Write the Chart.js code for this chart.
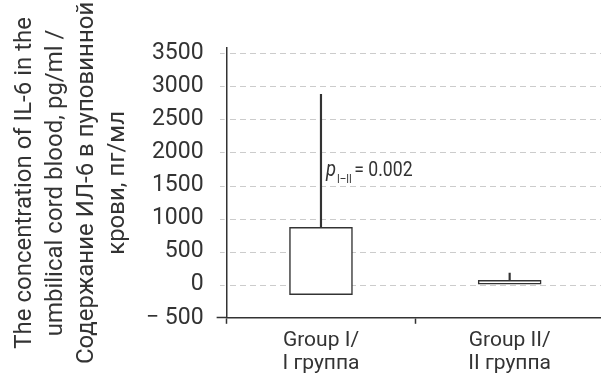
<!DOCTYPE html>
<html>
<head>
<meta charset="utf-8">
<script src="https://cdn.jsdelivr.net/npm/chart.js@4/dist/chart.umd.min.js"></script>
<style>
  html, body { margin: 0; padding: 0; background: #fff; overflow: hidden; }
  #wrap { position: relative; width: 604px; height: 381px; }
</style>
</head>
<body>
<div id="wrap"><canvas id="c"></canvas></div>
<script>
// ---- data ----
const categories = [['Group I/', 'I группа'], ['Group II/', 'II группа']];
const boxLow = [-150, 0];
const boxHigh = [870, 65];
const whiskerHigh = [2880, 175];
const yTicks = [-500, 0, 500, 1000, 1500, 2000, 2500, 3000, 3500];
const titleLines = ['The concentration of IL-6 in the', 'umbilical cord blood, pg/ml /', 'Содержание ИЛ-6 в пуповинной', 'крови, пг/мл'];
const pValueText = '= 0.002';
const pSubText = 'I–II';
const pAnchorValue = 1650;

const dark = '#333333';
const gridGray = '#cccccc';

// dashed horizontal grid lines at the y scale's ticks (segments drawn one by one)
const dashedGrid = {
  id: 'dashedGrid',
  beforeDatasetsDraw(chart) {
    const {ctx, chartArea, scales: {y}} = chart;
    const dash = 6, gap = 4;
    ctx.save();
    ctx.fillStyle = gridGray;
    y.ticks.forEach(t => {
      if (t.value === y.min) return;
      const py = Math.round(y.getPixelForValue(t.value));
      for (let xs = chartArea.left - 7; xs < chartArea.right; xs += dash + gap) {
        const x0 = Math.round(xs);
        let x1 = Math.min(x0 + dash, chartArea.right);
        if (x0 < chartArea.left && x1 > chartArea.left - 2) x1 = chartArea.left - 2;
        if (x1 > x0) ctx.fillRect(x0, py, x1 - x0, 1);
      }
    });
    ctx.restore();
  }
};

const annotation = {
  id: 'pAnnot',
  afterDatasetsDraw(chart) {
    const {ctx, scales: {x, y}} = chart;
    const px = x.getPixelForValue(0) + 5;
    const py = y.getPixelForValue(pAnchorValue);
    const sx = 0.84;
    ctx.save();
    ctx.fillStyle = dark;
    ctx.textBaseline = 'alphabetic';
    ctx.textAlign = 'left';
    ctx.translate(px, py);
    ctx.scale(sx, 1);
    ctx.font = 'italic 22px Roboto';
    ctx.fillText('p', 0, 0);
    const w = ctx.measureText('p').width;
    ctx.font = '12px Roboto';
    ctx.fillText(pSubText, w + 1, 7);
    const w2 = ctx.measureText(pSubText).width;
    ctx.font = '21px Roboto';
    ctx.fillText(pValueText, w + w2 + 4, 0);
    ctx.restore();
  }
};

new Chart(document.getElementById('c'), {
  type: 'bar',
  data: {
    labels: categories,
    datasets: [
      {
        data: boxLow.map((v, i) => [v, boxHigh[i]]),
        backgroundColor: '#ffffff',
        borderColor: dark,
        borderWidth: 1.5,
        borderSkipped: false,
        barThickness: 63,
        grouped: false,
        order: 1
      },
      {
        data: boxHigh.map((v, i) => [v, whiskerHigh[i]]),
        backgroundColor: dark,
        borderWidth: 0,
        barThickness: 1.5,
        grouped: false,
        order: 2
      }
    ]
  },
  options: {
    responsive: true,
    maintainAspectRatio: false,
    animation: false,
    events: [],
    layout: { padding: { top: 48, right: 0, bottom: 1, left: 0 } },
    plugins: { legend: { display: false }, tooltip: { enabled: false } },
    scales: {
      x: {
        type: 'category',
        grid: {
          offset: true,
          drawOnChartArea: false,
          tickLength: 6,
          tickColor: dark,
          tickWidth: 1.5
        },
        border: { color: dark, width: 1.5 },
        ticks: {
          color: dark,
          font: { family: 'Roboto', size: 21, lineHeight: 1.1 },
          padding: 5,
          maxRotation: 0
        }
      },
      y: {
        min: -500,
        max: 3580,
        afterBuildTicks(scale) {
          scale.ticks = yTicks.map(v => ({ value: v }));
        },
        grid: {
          color: 'rgba(0,0,0,0)',
          lineWidth: 1,
          drawOnChartArea: false,
          tickLength: 10,
          tickColor: ctx => (ctx.tick && ctx.tick.value === -500) ? dark : 'rgba(0,0,0,0)',
          tickWidth: 1.5
        },
        border: { color: dark, width: 1.5 },
        ticks: {
          color: dark,
          font: { family: 'Roboto', size: 23 },
          padding: 13,
          callback: v => v < 0 ? '− ' + Math.abs(v) : String(v)
        },
        title: {
          display: true,
          text: titleLines,
          color: dark,
          font: { family: 'Roboto', size: 24, lineHeight: '31px' },
          padding: { top: 9, bottom: 0 }
        }
      }
    }
  },
  plugins: [dashedGrid, annotation]
});
</script>
</body>
</html>
